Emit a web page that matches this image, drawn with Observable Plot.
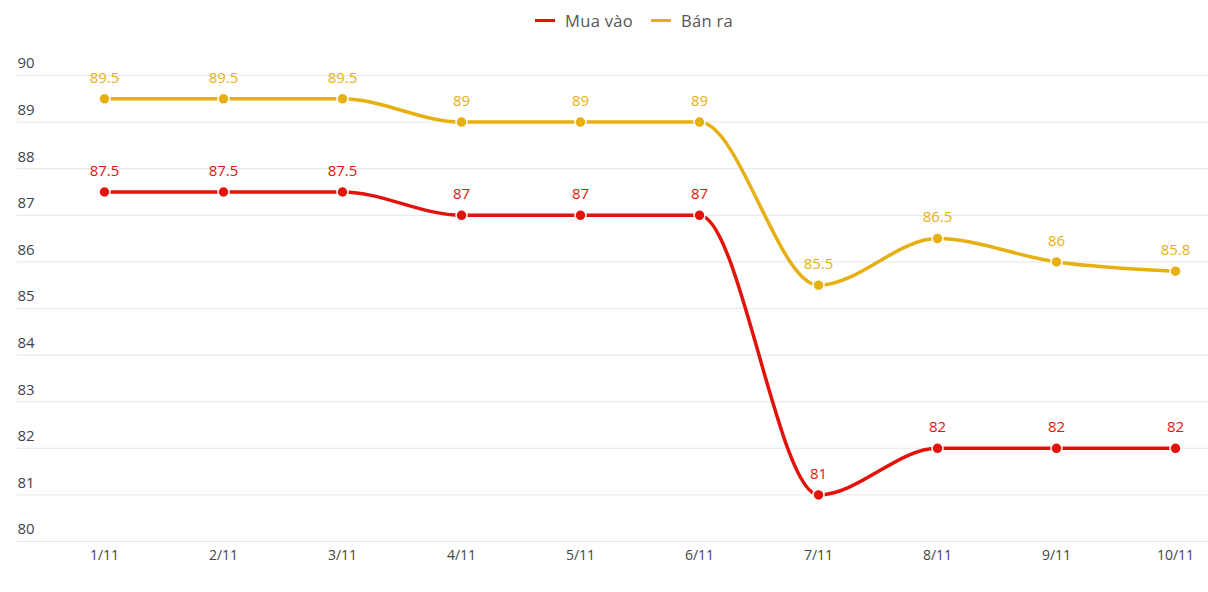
<!DOCTYPE html>
<html>
<head>
<meta charset="utf-8">
<script src="https://cdn.jsdelivr.net/npm/d3@7"></script>
<script src="https://cdn.jsdelivr.net/npm/@observablehq/plot@0.6"></script>
<style>
  html, body { margin: 0; padding: 0; background: #fff; }
  #wrap { width: 1208px; font-family: "Open Sans", sans-serif; }
  #legend { height: 40px; display: flex; justify-content: center; align-items: center; gap: 18px; font-size: 16.5px; color: #555; padding-left: 60px; box-sizing: border-box; letter-spacing: 0.3px; }
  .item { display: flex; align-items: center; gap: 10px; }
  .sw { width: 20px; height: 3px; display: inline-block; }
</style>
</head>
<body>
<div id="wrap">
  <div id="legend"></div>
  <div id="chart"></div>
</div>
<script>
const dates = ["1/11","2/11","3/11","4/11","5/11","6/11","7/11","8/11","9/11","10/11"];
const muaVao = [87.5,87.5,87.5,87,87,87,81,82,82,82];
const banRa = [89.5,89.5,89.5,89,89,89,85.5,86.5,86,85.8];
const seriesNames = ["Mua vào","Bán ra"];
const seriesColors = ["#e3120b","#e6b012"];
const yTicks = [80,81,82,83,84,85,86,87,88,89,90];

const data = [];
[muaVao, banRa].forEach((vals, s) => {
  vals.forEach((v, i) => data.push({date: dates[i], value: v, series: seriesNames[s]}));
});

const legend = document.getElementById("legend");
seriesNames.forEach((n, i) => {
  const it = document.createElement("div");
  it.className = "item";
  it.innerHTML = `<span class="sw" style="background:${seriesColors[i]}"></span><span>${n}</span>`;
  legend.appendChild(it);
});

const chart = Plot.plot({
  width: 1208,
  height: 552,
  marginLeft: 17,
  marginRight: 0,
  marginTop: 35,
  marginBottom: 51,
  style: {fontFamily: "'Open Sans', sans-serif", background: "#fff"},
  x: {type: "point", domain: dates, range: [102, 1176], padding: 0, label: null},
  y: {domain: [80, 90], label: null},
  color: {domain: seriesNames, range: seriesColors},
  marks: [
    Plot.ruleY(yTicks, {stroke: "#e6e6e6", strokeWidth: 1}),
    Plot.axisY({ticks: yTicks, tickSize: 0, tickPadding: 0, textAnchor: "start", dy: -12, fontSize: 15, color: "#444", label: null}),
    Plot.axisX({tickSize: 0, tickPadding: 9, fontSize: 14, color: "#444", label: null}),
    Plot.line(data, {x: "date", y: "value", z: "series", stroke: "series", strokeWidth: 3.5, curve: "monotone-x"}),
    Plot.dot(data, {x: "date", y: "value", fill: "series", stroke: "#fff", strokeWidth: 1.5, r: 5.5}),
    Plot.text(data, {x: "date", y: "value", text: d => String(d.value), fill: "series", dy: -21, fontSize: 15})
  ]
});
document.getElementById("chart").appendChild(chart);
</script>
</body>
</html>
